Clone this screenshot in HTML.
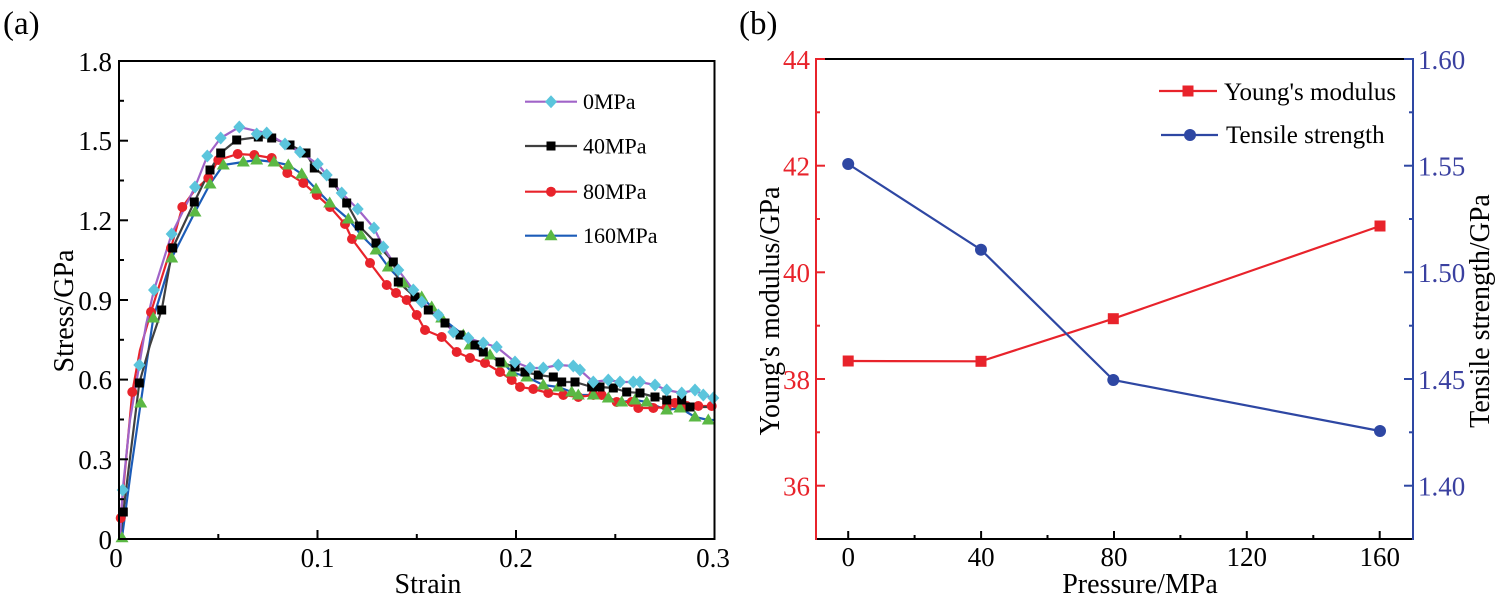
<!DOCTYPE html>
<html><head><meta charset="utf-8"><style>
html,body{margin:0;padding:0;background:#fff;}
svg{display:block;font-family:"Liberation Serif","DejaVu Serif",serif;}
</style></head><body>
<svg width="1500" height="600" viewBox="0 0 1500 600" xmlns="http://www.w3.org/2000/svg">
<defs>
<path id="dia" d="M0,-6.5 L6,0 L0,6.5 L-6,0Z" fill="#5bc5dc"/>
<rect id="sq" x="-4.5" y="-4.5" width="9" height="9" fill="#000"/>
<circle id="ci" r="5" fill="#e8232b"/>
<path id="tri" d="M0,-6.5 L6.5,4.5 L-6.5,4.5Z" fill="#5bb844"/>
<rect id="rsq" x="-5.5" y="-5.5" width="11" height="11" fill="#e8232b"/>
<circle id="bci" r="6" fill="#2e47a3"/>
</defs>

<!-- panel labels -->
<text x="3" y="34" font-size="33">(a)</text>
<text x="739" y="34" font-size="33">(b)</text>

<!-- ================= LEFT PLOT ================= -->
<g fill="none" stroke-linejoin="round" stroke-linecap="round" stroke-width="2.2">
<!-- 160MPa -->
<polyline stroke="#1c5cb8" points="120,539 122,537.7 131,470 140.7,403 153.3,318 171.7,258 195,212 210,184 223.3,165 243.3,162 256.7,160 274,162 288.3,165 301.7,174 316,189 329.7,203 348.3,219 361,235 376,250 388.3,267 403.3,283 421.7,297 431.7,307 441.7,318 463.3,335 470,345 490,355 503.3,363 511.7,372 526.7,377 543.3,385 558.3,387 571.7,392 578.3,395 593.3,395 608.3,398 621.7,402 635,400 646.7,402 666.7,410 680,408 695,417 708.3,420 714,420"/>
<!-- 80MPa -->
<polyline stroke="#e8232b" points="120,539 120.7,518 126,460 132.3,392 140,350 151,312 171,248 182.3,207 195,190 208.3,178 218.3,160 237.7,154 254.3,155 271.7,158 287.3,173 303.3,183 316.7,195 330,207 345,224 352,239 370,263 386.7,285 396,293 406.7,300 416.7,315 425,330 441.7,337 456.7,352 470,358 485,363 500,372 511.7,380 520,387 533.3,389 548.3,393 563.3,395 578.3,397 593.3,395 601.7,395 616.7,402 631.7,402 638.3,408 653.3,408 666.7,407 675,403 686.7,406 698.3,406 713,406"/>
<!-- 40MPa -->
<polyline stroke="#404040" points="120,539 123.3,512 131,450 139.3,383 150,345 161.7,310 172.7,248 194.3,202 210,170 220.7,153 236.7,140 258.3,137 271.7,138 290,145 306,153 314.3,168 333.3,183 346.7,203 359.3,226 376,243 393.3,262 398.3,282 415,297 428.3,310 445,323 460,335 475,345 483.3,352 500,362 515,367 525,372 538.3,375 553.3,377 561.7,382 575,382 591.7,387 600,387 613.3,388 626.7,392 640,393 655,397 666.7,400 681.7,400 690,407 713,407"/>
<!-- 0MPa -->
<polyline stroke="#a064c8" points="120,539 122.7,490 130,420 139.3,365 146,325 154,290 171.7,234 195,187 207.3,156 220.7,138 239.3,127 256.7,131 266.7,133 285,144 300,152 317.7,164 326.7,175 341.7,193 357.7,209 374,228 383.3,247 398.3,270 413.3,290 421.7,302 438.3,315 453.3,332 468.3,338 483.3,343 496.7,347 515,362 530,368 543.3,368 558.3,365 573.3,366 580,370 593.3,382 608.3,380 620,382 633.3,382 640,382 655,385 666.7,390 681.7,393 695,390 703.3,395 713.3,398"/>
</g>

<!-- 80MPa markers -->
<g>
<use href="#ci" x="120.7" y="518"/><use href="#ci" x="132.3" y="392"/><use href="#ci" x="151" y="312"/><use href="#ci" x="171" y="248"/><use href="#ci" x="182.3" y="207"/><use href="#ci" x="208.3" y="178"/><use href="#ci" x="218.3" y="160"/><use href="#ci" x="237.7" y="154"/><use href="#ci" x="254.3" y="155"/><use href="#ci" x="271.7" y="158"/><use href="#ci" x="287.3" y="173"/><use href="#ci" x="303.3" y="183"/><use href="#ci" x="316.7" y="195"/><use href="#ci" x="330" y="207"/><use href="#ci" x="345" y="224"/><use href="#ci" x="352" y="239"/><use href="#ci" x="370" y="263"/><use href="#ci" x="386.7" y="285"/><use href="#ci" x="396" y="293"/><use href="#ci" x="406.7" y="300"/><use href="#ci" x="416.7" y="315"/><use href="#ci" x="425" y="330"/><use href="#ci" x="441.7" y="337"/><use href="#ci" x="456.7" y="352"/><use href="#ci" x="470" y="358"/><use href="#ci" x="485" y="363"/><use href="#ci" x="500" y="372"/><use href="#ci" x="511.7" y="380"/><use href="#ci" x="520" y="387"/><use href="#ci" x="533.3" y="389"/><use href="#ci" x="548.3" y="393"/><use href="#ci" x="563.3" y="395"/><use href="#ci" x="578.3" y="397"/><use href="#ci" x="593.3" y="395"/><use href="#ci" x="601.7" y="395"/><use href="#ci" x="616.7" y="402"/><use href="#ci" x="631.7" y="402"/><use href="#ci" x="638.3" y="408"/><use href="#ci" x="653.3" y="408"/><use href="#ci" x="666.7" y="407"/><use href="#ci" x="675" y="403"/><use href="#ci" x="686.7" y="406"/><use href="#ci" x="698.3" y="406"/><use href="#ci" x="711.7" y="406"/>
</g>
<!-- 160MPa markers -->
<g>
<use href="#tri" x="122" y="537.7"/><use href="#tri" x="140.7" y="403"/><use href="#tri" x="153.3" y="318"/><use href="#tri" x="171.7" y="258"/><use href="#tri" x="195" y="212"/><use href="#tri" x="210" y="184"/><use href="#tri" x="223.3" y="165"/><use href="#tri" x="243.3" y="162"/><use href="#tri" x="256.7" y="160"/><use href="#tri" x="274" y="162"/><use href="#tri" x="288.3" y="165"/><use href="#tri" x="301.7" y="174"/><use href="#tri" x="316" y="189"/><use href="#tri" x="329.7" y="203"/><use href="#tri" x="348.3" y="219"/><use href="#tri" x="361" y="235"/><use href="#tri" x="376" y="250"/><use href="#tri" x="388.3" y="267"/><use href="#tri" x="403.3" y="283"/><use href="#tri" x="421.7" y="297"/><use href="#tri" x="431.7" y="307"/><use href="#tri" x="441.7" y="318"/><use href="#tri" x="463.3" y="335"/><use href="#tri" x="470" y="345"/><use href="#tri" x="490" y="355"/><use href="#tri" x="503.3" y="363"/><use href="#tri" x="511.7" y="372"/><use href="#tri" x="526.7" y="377"/><use href="#tri" x="543.3" y="385"/><use href="#tri" x="558.3" y="387"/><use href="#tri" x="571.7" y="392"/><use href="#tri" x="578.3" y="395"/><use href="#tri" x="593.3" y="395"/><use href="#tri" x="608.3" y="398"/><use href="#tri" x="621.7" y="402"/><use href="#tri" x="635" y="400"/><use href="#tri" x="646.7" y="402"/><use href="#tri" x="666.7" y="410"/><use href="#tri" x="680" y="408"/><use href="#tri" x="695" y="417"/><use href="#tri" x="708.3" y="420"/>
</g>
<!-- 40MPa markers -->
<g>
<use href="#sq" x="123.3" y="512"/><use href="#sq" x="139.3" y="383"/><use href="#sq" x="161.7" y="310"/><use href="#sq" x="172.7" y="248"/><use href="#sq" x="194.3" y="202"/><use href="#sq" x="210" y="170"/><use href="#sq" x="220.7" y="153"/><use href="#sq" x="236.7" y="140"/><use href="#sq" x="258.3" y="137"/><use href="#sq" x="271.7" y="138"/><use href="#sq" x="290" y="145"/><use href="#sq" x="306" y="153"/><use href="#sq" x="314.3" y="168"/><use href="#sq" x="333.3" y="183"/><use href="#sq" x="346.7" y="203"/><use href="#sq" x="359.3" y="226"/><use href="#sq" x="376" y="243"/><use href="#sq" x="393.3" y="262"/><use href="#sq" x="398.3" y="282"/><use href="#sq" x="415" y="297"/><use href="#sq" x="428.3" y="310"/><use href="#sq" x="445" y="323"/><use href="#sq" x="460" y="335"/><use href="#sq" x="475" y="345"/><use href="#sq" x="483.3" y="352"/><use href="#sq" x="500" y="362"/><use href="#sq" x="515" y="367"/><use href="#sq" x="525" y="372"/><use href="#sq" x="538.3" y="375"/><use href="#sq" x="553.3" y="377"/><use href="#sq" x="561.7" y="382"/><use href="#sq" x="575" y="382"/><use href="#sq" x="591.7" y="387"/><use href="#sq" x="600" y="387"/><use href="#sq" x="613.3" y="388"/><use href="#sq" x="626.7" y="392"/><use href="#sq" x="640" y="393"/><use href="#sq" x="655" y="397"/><use href="#sq" x="666.7" y="400"/><use href="#sq" x="681.7" y="400"/><use href="#sq" x="690" y="407"/>
</g>
<!-- 0MPa markers -->
<g>
<use href="#dia" x="122.7" y="490"/><use href="#dia" x="139.3" y="365"/><use href="#dia" x="154" y="290"/><use href="#dia" x="171.7" y="234"/><use href="#dia" x="195" y="187"/><use href="#dia" x="207.3" y="156"/><use href="#dia" x="220.7" y="138"/><use href="#dia" x="239.3" y="127"/><use href="#dia" x="256.7" y="134"/><use href="#dia" x="266.7" y="133"/><use href="#dia" x="285" y="144"/><use href="#dia" x="300" y="152"/><use href="#dia" x="317.7" y="164"/><use href="#dia" x="326.7" y="175"/><use href="#dia" x="341.7" y="193"/><use href="#dia" x="357.7" y="209"/><use href="#dia" x="374" y="228"/><use href="#dia" x="383.3" y="247"/><use href="#dia" x="398.3" y="270"/><use href="#dia" x="413.3" y="290"/><use href="#dia" x="421.7" y="302"/><use href="#dia" x="438.3" y="315"/><use href="#dia" x="453.3" y="332"/><use href="#dia" x="468.3" y="338"/><use href="#dia" x="483.3" y="343"/><use href="#dia" x="496.7" y="347"/><use href="#dia" x="515" y="362"/><use href="#dia" x="530" y="368"/><use href="#dia" x="543.3" y="368"/><use href="#dia" x="558.3" y="365"/><use href="#dia" x="573.3" y="366"/><use href="#dia" x="580" y="370"/><use href="#dia" x="593.3" y="382"/><use href="#dia" x="608.3" y="380"/><use href="#dia" x="620" y="382"/><use href="#dia" x="633.3" y="382"/><use href="#dia" x="640" y="382"/><use href="#dia" x="655" y="385"/><use href="#dia" x="666.7" y="390"/><use href="#dia" x="681.7" y="393"/><use href="#dia" x="695" y="390"/><use href="#dia" x="703.3" y="395"/><use href="#dia" x="713.3" y="398"/>
</g>

<!-- left frame -->
<rect x="119" y="61" width="595.5" height="478" fill="none" stroke="#000" stroke-width="2"/>
<g stroke="#000" stroke-width="2">
<!-- y ticks -->
<line x1="119" y1="459.3" x2="128" y2="459.3"/><line x1="119" y1="379.6" x2="128" y2="379.6"/><line x1="119" y1="300" x2="128" y2="300"/><line x1="119" y1="220.3" x2="128" y2="220.3"/><line x1="119" y1="140.7" x2="128" y2="140.7"/>
<line x1="119" y1="499.2" x2="124" y2="499.2"/><line x1="119" y1="419.5" x2="124" y2="419.5"/><line x1="119" y1="339.8" x2="124" y2="339.8"/><line x1="119" y1="260" x2="124" y2="260"/><line x1="119" y1="180.5" x2="124" y2="180.5"/><line x1="119" y1="100.8" x2="124" y2="100.8"/>
<!-- x ticks -->
<line x1="317.5" y1="539" x2="317.5" y2="530"/><line x1="516" y1="539" x2="516" y2="530"/>
<line x1="218.3" y1="539" x2="218.3" y2="534"/><line x1="416.8" y1="539" x2="416.8" y2="534"/><line x1="615.3" y1="539" x2="615.3" y2="534"/>
</g>
<g font-size="27" text-anchor="end" fill="#000">
<text x="112" y="549">0</text><text x="112" y="469">0.3</text><text x="112" y="389">0.6</text><text x="112" y="310">0.9</text><text x="112" y="230">1.2</text><text x="112" y="150">1.5</text><text x="112" y="71">1.8</text>
</g>
<g font-size="27" text-anchor="middle" fill="#000">
<text x="116" y="567">0</text><text x="317.5" y="567">0.1</text><text x="516" y="567">0.2</text><text x="713" y="567">0.3</text>
</g>
<text x="428" y="593" font-size="28" text-anchor="middle">Strain</text>
<text transform="translate(73,311) rotate(-90)" font-size="28" text-anchor="middle">Stress/GPa</text>

<!-- left legend -->
<g stroke-width="2.2">
<line x1="525" y1="101.7" x2="577" y2="101.7" stroke="#a064c8"/>
<line x1="525" y1="146" x2="577" y2="146" stroke="#404040"/>
<line x1="525" y1="191.7" x2="577" y2="191.7" stroke="#e8232b"/>
<line x1="525" y1="235.7" x2="577" y2="235.7" stroke="#1c5cb8"/>
</g>
<use href="#dia" x="551" y="101.7"/><use href="#sq" x="551" y="146"/><use href="#ci" x="551" y="191.7"/><use href="#tri" x="551" y="235.7"/>
<g font-size="22">
<text x="583" y="109">0MPa</text><text x="583" y="153.5">40MPa</text><text x="583" y="199">80MPa</text><text x="583" y="243">160MPa</text>
</g>

<!-- ================= RIGHT PLOT ================= -->
<g stroke-width="2">
<line x1="816" y1="59" x2="1413" y2="59" stroke="#000"/>
<line x1="816" y1="539" x2="1413" y2="539" stroke="#000"/>
<line x1="816" y1="58" x2="816" y2="540" stroke="#e8232b"/>
<line x1="1413" y1="58" x2="1413" y2="540" stroke="#2e47a3"/>
</g>
<g stroke="#e8232b" stroke-width="2">
<line x1="816" y1="59" x2="825" y2="59"/><line x1="816" y1="165.7" x2="825" y2="165.7"/><line x1="816" y1="272.3" x2="825" y2="272.3"/><line x1="816" y1="379" x2="825" y2="379"/><line x1="816" y1="485.7" x2="825" y2="485.7"/>
<line x1="816" y1="112.3" x2="820" y2="112.3"/><line x1="816" y1="219" x2="820" y2="219"/><line x1="816" y1="325.7" x2="820" y2="325.7"/><line x1="816" y1="432.3" x2="820" y2="432.3"/>
</g>
<g stroke="#2e47a3" stroke-width="2">
<line x1="1404" y1="59" x2="1413" y2="59"/><line x1="1404" y1="165.7" x2="1413" y2="165.7"/><line x1="1404" y1="272.3" x2="1413" y2="272.3"/><line x1="1404" y1="379" x2="1413" y2="379"/><line x1="1404" y1="485.7" x2="1413" y2="485.7"/>
<line x1="1409" y1="112.3" x2="1413" y2="112.3"/><line x1="1409" y1="219" x2="1413" y2="219"/><line x1="1409" y1="325.7" x2="1413" y2="325.7"/><line x1="1409" y1="432.3" x2="1413" y2="432.3"/>
</g>
<g stroke="#000" stroke-width="2">
<line x1="848.2" y1="539" x2="848.2" y2="531"/><line x1="981.1" y1="539" x2="981.1" y2="531"/><line x1="1114" y1="539" x2="1114" y2="531"/><line x1="1246.8" y1="539" x2="1246.8" y2="531"/><line x1="1379.7" y1="539" x2="1379.7" y2="531"/>
<line x1="914.6" y1="539" x2="914.6" y2="535"/><line x1="1047.5" y1="539" x2="1047.5" y2="535"/><line x1="1180.4" y1="539" x2="1180.4" y2="535"/><line x1="1313.3" y1="539" x2="1313.3" y2="535"/>
</g>
<g font-size="27" text-anchor="end" fill="#e8232b">
<text x="810" y="69">44</text><text x="810" y="175.5">42</text><text x="810" y="282">40</text><text x="810" y="389">38</text><text x="810" y="495.5">36</text>
</g>
<g font-size="27" fill="#3a40a0">
<text x="1418" y="69">1.60</text><text x="1418" y="175.5">1.55</text><text x="1418" y="282">1.50</text><text x="1418" y="389">1.45</text><text x="1418" y="495.5">1.40</text>
</g>
<g font-size="27" text-anchor="middle" fill="#000">
<text x="848.2" y="566">0</text><text x="981.1" y="566">40</text><text x="1114" y="566">80</text><text x="1246.8" y="566">120</text><text x="1379.7" y="566">160</text>
</g>
<text x="1140" y="593" font-size="28" text-anchor="middle">Pressure/MPa</text>
<text transform="translate(779,311) rotate(-90)" font-size="28" text-anchor="middle">Young's modulus/GPa</text>
<text transform="translate(1489,311) rotate(-90)" font-size="28" text-anchor="middle">Tensile strength/GPa</text>

<!-- data -->
<polyline fill="none" stroke="#e8232b" stroke-width="2.2" points="848.2,361 981,361.3 1113.3,318.7 1380,226"/>
<polyline fill="none" stroke="#2e47a3" stroke-width="2.2" points="848.2,164 981,249.7 1113.3,380 1380,431"/>
<use href="#rsq" x="848.2" y="361"/><use href="#rsq" x="981" y="361.3"/><use href="#rsq" x="1113.3" y="318.7"/><use href="#rsq" x="1380" y="226"/>
<use href="#bci" x="848.2" y="164"/><use href="#bci" x="981" y="249.7"/><use href="#bci" x="1113.3" y="380"/><use href="#bci" x="1380" y="431"/>

<!-- right legend -->
<line x1="1159" y1="91" x2="1217" y2="91" stroke="#e8232b" stroke-width="2.2"/>
<use href="#rsq" x="1188" y="91"/>
<line x1="1161" y1="135" x2="1218" y2="135" stroke="#2e47a3" stroke-width="2.2"/>
<use href="#bci" x="1190" y="135"/>
<text x="1224" y="100" font-size="25">Young's modulus</text>
<text x="1226" y="143" font-size="25">Tensile strength</text>
</svg>
</body></html>
